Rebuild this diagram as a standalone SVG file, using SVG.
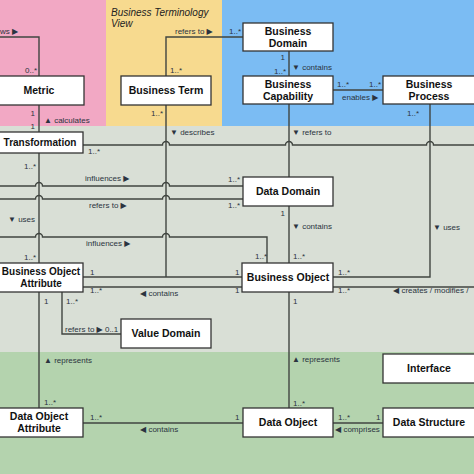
<svg xmlns="http://www.w3.org/2000/svg" width="474" height="474" viewBox="0 0 474 474">
<style>
.n rect{fill:#fff;stroke:#333;stroke-width:1.3}
.n text{font-family:"Liberation Sans",Arial,sans-serif;font-weight:bold;font-size:10.5px;fill:#111;text-anchor:middle}
.n text.s{font-size:10px}
.c path{fill:none;stroke:#404540;stroke-width:1.4}
.l{font-family:"Liberation Sans","DejaVu Sans",Arial,sans-serif;font-size:8px;fill:#2b3440}
.r{text-anchor:end}
.t{font-family:"Liberation Sans",Arial,sans-serif;font-style:italic;font-size:10px;fill:#222}
</style>
<rect x="0" y="0" width="474" height="474" fill="#d9dfd6"/>
<rect x="0" y="0" width="106" height="126" fill="#f2a8c4"/>
<rect x="106" y="0" width="116" height="126" fill="#f7da8f"/>
<rect x="222" y="0" width="252" height="126" fill="#7bbcf3"/>
<rect x="0" y="352" width="474" height="122" fill="#b4d3ae"/>
<text class="t" x="111" y="16">Business Terminology</text>
<text class="t" x="111" y="27">View</text>
<g class="c">
<path d="M0,37 H39 V76"/>
<path d="M166,76 V37 H243"/>
<path d="M39,105 V132"/>
<path d="M166,105 V277"/>
<path d="M289,51 V76"/>
<path d="M333,90 H383"/>
<path d="M289,104 V177"/>
<path d="M430,104 V277 H333"/>
<path d="M83,145 H162.5 a3.5,3.5 0 0 1 7,0 H285.5 a3.5,3.5 0 0 1 7,0 H426.5 a3.5,3.5 0 0 1 7,0 H474"/>
<path d="M39,153 V263"/>
<path d="M0,186 H35.5 a3.5,3.5 0 0 1 7,0 H162.5 a3.5,3.5 0 0 1 7,0 H243"/>
<path d="M0,199 H35.5 a3.5,3.5 0 0 1 7,0 H162.5 a3.5,3.5 0 0 1 7,0 H243"/>
<path d="M0,237 H35.5 a3.5,3.5 0 0 1 7,0 H162.5 a3.5,3.5 0 0 1 7,0 H267 V263"/>
<path d="M289,206 V263"/>
<path d="M83,277 H242"/>
<path d="M83,287 H242"/>
<path d="M333,287 H474"/>
<path d="M62,292 V334 H121"/>
<path d="M39,292 V408"/>
<path d="M289,292 V408"/>
<path d="M83,423 H243"/>
<path d="M333,423 H383"/>
</g>
<g id="labels">
<text class="l" x="0" y="34">ws ▶</text>
<text class="l r" x="37" y="73">0..*</text>
<text class="l" x="175" y="34">refers to ▶</text>
<text class="l" x="229" y="34">1..*</text>
<text class="l" x="170" y="73">1..*</text>
<text class="l r" x="163" y="116">1..*</text>
<text class="l r" x="35" y="116">1</text>
<text class="l r" x="35" y="129">1</text>
<text class="l" x="44" y="123">▲ calculates</text>
<text class="l" x="170" y="135">▼ describes</text>
<text class="l r" x="285" y="60">1</text>
<text class="l r" x="286" y="74">1..*</text>
<text class="l" x="292" y="70">▼ contains</text>
<text class="l" x="337" y="87">1..*</text>
<text class="l" x="369" y="87">1..*</text>
<text class="l" x="342" y="100">enables ▶</text>
<text class="l" x="407" y="116">1..*</text>
<text class="l" x="292" y="135">▼ refers to</text>
<text class="l" x="88" y="154">1..*</text>
<text class="l r" x="36" y="169">1..*</text>
<text class="l" x="85" y="181">influences ▶</text>
<text class="l" x="228" y="182">1..*</text>
<text class="l" x="89" y="208">refers to ▶</text>
<text class="l" x="228" y="208">1..*</text>
<text class="l" x="8" y="222">▼ uses</text>
<text class="l" x="86" y="246">influences ▶</text>
<text class="l r" x="36" y="260">1..*</text>
<text class="l" x="255" y="259">1..*</text>
<text class="l" x="293" y="259">1..*</text>
<text class="l r" x="285" y="216">1</text>
<text class="l" x="292" y="229">▼ contains</text>
<text class="l" x="433" y="230">▼ uses</text>
<text class="l" x="338" y="275">1..*</text>
<text class="l" x="338" y="293">1..*</text>
<text class="l" x="393" y="293">◀ creates / modifies /</text>
<text class="l" x="90" y="275">1</text>
<text class="l" x="235" y="275">1</text>
<text class="l" x="90" y="293">1..*</text>
<text class="l" x="235" y="293">1</text>
<text class="l" x="140" y="296">◀ contains</text>
<text class="l" x="66" y="304">1..*</text>
<text class="l" x="44" y="304">1</text>
<text class="l" x="65" y="332">refers to ▶ 0..1</text>
<text class="l" x="44" y="363">▲ represents</text>
<text class="l" x="44" y="405">1..*</text>
<text class="l" x="90" y="420">1..*</text>
<text class="l" x="235" y="420">1</text>
<text class="l" x="140" y="432">◀ contains</text>
<text class="l" x="293" y="304">1</text>
<text class="l" x="292" y="362">▲ represents</text>
<text class="l" x="293" y="406">1..*</text>
<text class="l" x="338" y="420">1..*</text>
<text class="l" x="376" y="420">1</text>
<text class="l" x="335" y="432">◀ comprises</text>
</g>
<g id="metric" class="n"><rect x="-6" y="76" width="90" height="29"/><text x="39" y="94">Metric</text></g>
<g id="business-term" class="n"><rect x="121" y="76" width="90" height="29"/><text x="166" y="94">Business Term</text></g>
<g id="business-domain" class="n"><rect x="243" y="23" width="90" height="28"/><text x="288" y="35">Business</text><text x="288" y="47">Domain</text></g>
<g id="business-capability" class="n"><rect x="243" y="76" width="90" height="28"/><text x="288" y="88">Business</text><text x="288" y="100">Capability</text></g>
<g id="business-process" class="n"><rect x="383" y="76" width="92" height="28"/><text x="429" y="88">Business</text><text x="429" y="100">Process</text></g>
<g id="transformation" class="n"><rect x="-6" y="132" width="89" height="21"/><text class="s" x="40" y="146">Transformation</text></g>
<g id="data-domain" class="n"><rect x="243" y="177" width="90" height="29"/><text x="288" y="195">Data Domain</text></g>
<g id="business-object-attribute" class="n"><rect x="-6" y="263" width="89" height="29"/><text class="s" x="41" y="275">Business Object</text><text class="s" x="41" y="287">Attribute</text></g>
<g id="business-object" class="n"><rect x="242" y="263" width="91" height="29"/><text x="288" y="281">Business Object</text></g>
<g id="value-domain" class="n"><rect x="121" y="319" width="90" height="29"/><text x="166" y="337">Value Domain</text></g>
<g id="interface" class="n"><rect x="383" y="354" width="92" height="29"/><text x="429" y="372">Interface</text></g>
<g id="data-object-attribute" class="n"><rect x="-6" y="408" width="89" height="29"/><text x="39" y="420">Data Object</text><text x="39" y="432">Attribute</text></g>
<g id="data-object" class="n"><rect x="243" y="408" width="90" height="29"/><text x="288" y="426">Data Object</text></g>
<g id="data-structure" class="n"><rect x="383" y="408" width="92" height="29"/><text x="429" y="426">Data Structure</text></g>
</svg>
